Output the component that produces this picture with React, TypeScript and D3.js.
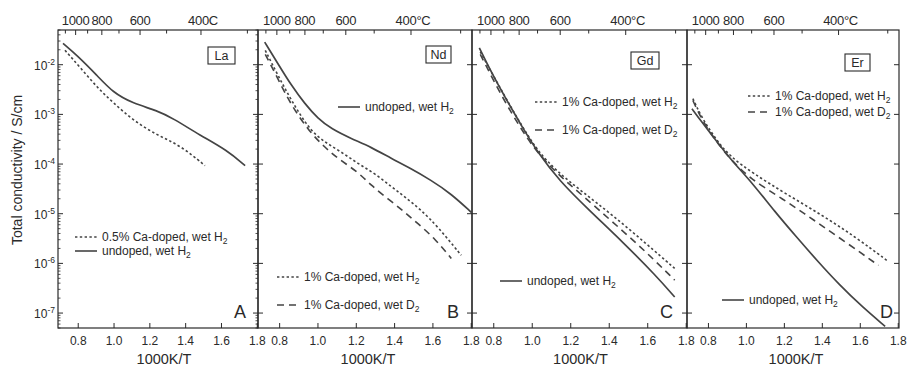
import React from "react";
import * as d3 from "d3";

// ---------------- data ----------------
const elements = ["La", "Nd", "Gd", "Er"];
const panelLetters = ["A", "B", "C", "D"];
const tempTicksC = [1100, 1000, 900, 800, 700, 600, 500, 400, 300];
const tempLabelsC = [1000, 800, 600, 400];
const invTTicks = [0.8, 1.0, 1.2, 1.4, 1.6, 1.8];
const decadeExp = [-2, -3, -4, -5, -6, -7];

// La
const laCaX = [0.726, 0.81, 0.905, 0.994, 1.106, 1.24, 1.369, 1.508];
const laCaS = [1.95e-2, 8.9e-3, 3.5e-3, 1.74e-3, 7.6e-4, 3.8e-4, 2.4e-4, 9.3e-5];
const laUndX = [0.715, 0.793, 0.905, 0.994, 1.106, 1.24, 1.33, 1.48, 1.631, 1.732];
const laUndS = [2.69e-2, 1.55e-2, 6.1e-3, 2.75e-3, 1.66e-3, 1.2e-3, 8.3e-4, 3.8e-4, 1.9e-4, 9.3e-5];

// Nd
const ndUndX = [0.722, 0.791, 0.861, 0.931, 1.0, 1.07, 1.174, 1.278, 1.383, 1.47, 1.592, 1.696, 1.8];
const ndUndS = [2.85e-2, 1.05e-2, 3.83e-3, 1.64e-3, 8.2e-4, 5.1e-4, 3.24e-4, 2.19e-4, 1.29e-4, 8.7e-5, 4.7e-5, 2.5e-5, 1.07e-5];
const ndH2X = [0.725, 0.791, 0.861, 0.957, 1.035, 1.122, 1.209, 1.296, 1.383, 1.453, 1.54, 1.627, 1.748];
const ndH2S = [1.94e-2, 6.1e-3, 1.91e-3, 4.8e-4, 2.77e-4, 1.75e-4, 1.02e-4, 6.5e-5, 3.5e-5, 2.19e-5, 1.17e-5, 5.4e-6, 1.45e-6];
const ndD2X = [0.725, 0.791, 0.861, 0.957, 1.035, 1.104, 1.209, 1.278, 1.365, 1.453, 1.522, 1.609, 1.696];
const ndD2S = [1.62e-2, 5.2e-3, 1.51e-3, 4.4e-4, 2.19e-4, 1.29e-4, 6.9e-5, 3.7e-5, 2.0e-5, 1.07e-5, 6.3e-6, 3.2e-6, 1.26e-6];

// Gd
const gdUndX = [0.725, 0.791, 0.861, 0.948, 1.035, 1.139, 1.296, 1.47, 1.644, 1.74];
const gdUndS = [2.19e-2, 6.6e-3, 2.14e-3, 5.5e-4, 1.58e-4, 4.7e-5, 1.17e-5, 2.7e-6, 5.6e-7, 2.1e-7];
const gdH2X = [0.73, 0.817, 0.896, 0.96, 1.026, 1.122, 1.261, 1.418, 1.592, 1.74];
const gdH2S = [1.82e-2, 4.4e-3, 1.26e-3, 4.8e-4, 1.9e-4, 7.4e-5, 2.75e-5, 9.3e-6, 2.5e-6, 7.9e-7];
const gdD2X = [0.73, 0.817, 0.896, 0.96, 1.026, 1.139, 1.261, 1.418, 1.592, 1.74];
const gdD2S = [1.62e-2, 3.5e-3, 1.0e-3, 4.0e-4, 1.7e-4, 5.9e-5, 2.34e-5, 6.8e-6, 1.7e-6, 4.6e-7];

// Er
const erUndX = [0.713, 0.765, 0.826, 0.913, 1.035, 1.148, 1.261, 1.374, 1.487, 1.609, 1.731];
const erUndS = [1.3e-3, 7.0e-4, 3.5e-4, 1.29e-4, 4.0e-5, 1.12e-5, 3.5e-6, 1.12e-6, 3.8e-7, 1.35e-7, 5.4e-8];
const erH2X = [0.718, 0.765, 0.843, 0.913, 1.035, 1.209, 1.4, 1.574, 1.74];
const erH2S = [2.07e-3, 8.5e-4, 3.0e-4, 1.43e-4, 6.5e-5, 2.5e-5, 9.3e-6, 3.4e-6, 1.15e-6];
const erD2X = [0.718, 0.765, 0.843, 0.913, 1.017, 1.191, 1.356, 1.522, 1.696];
const erD2S = [1.9e-3, 7.8e-4, 2.77e-4, 1.29e-4, 5.1e-5, 2.0e-5, 7.4e-6, 2.7e-6, 9.1e-7];

const lblUnd = "undoped, wet H";
const lblCaH2 = "1% Ca-doped, wet H";
const lblCaD2 = "1% Ca-doped, wet D";
const lblCa05 = "0.5% Ca-doped, wet H";

type Kind = "solid" | "dot" | "dash";
interface Series { x: number[]; y: number[]; kind: Kind; label: string; sub: string }

const panelSeries: Series[][] = [
  [
    { x: laCaX, y: laCaS, kind: "dot", label: lblCa05, sub: "2" },
    { x: laUndX, y: laUndS, kind: "solid", label: lblUnd, sub: "2" },
  ],
  [
    { x: ndUndX, y: ndUndS, kind: "solid", label: lblUnd, sub: "2" },
    { x: ndH2X, y: ndH2S, kind: "dot", label: lblCaH2, sub: "2" },
    { x: ndD2X, y: ndD2S, kind: "dash", label: lblCaD2, sub: "2" },
  ],
  [
    { x: gdH2X, y: gdH2S, kind: "dot", label: lblCaH2, sub: "2" },
    { x: gdD2X, y: gdD2S, kind: "dash", label: lblCaD2, sub: "2" },
    { x: gdUndX, y: gdUndS, kind: "solid", label: lblUnd, sub: "2" },
  ],
  [
    { x: erH2X, y: erH2S, kind: "dot", label: lblCaH2, sub: "2" },
    { x: erD2X, y: erD2S, kind: "dash", label: lblCaD2, sub: "2" },
    { x: erUndX, y: erUndS, kind: "solid", label: lblUnd, sub: "2" },
  ],
];

// ---------------- layout ----------------
const W = 908;
const H = 368;
const TOP = 30;
const BOTTOM = 328;
const FONT = "'Liberation Sans', Arial, Helvetica, sans-serif";
const INK = "#2a2a2a";
const LINE = "#444";

const panelBox = [
  { x0: 58, x1: 258, boxR: 235, boxT: 47, boxW: 27, letterX: 246, legend: [[75, 237], [75, 251]], titleDx: 6 },
  { x0: 258, x1: 472, boxR: 451, boxT: 46, boxW: 25, letterX: 459, legend: [[338, 107], [277, 277], [277, 305]], titleDx: 3 },
  { x0: 472, x1: 687, boxR: 659, boxT: 52, boxW: 28, letterX: 673, legend: [[535, 102], [535, 130], [500, 281]], titleDx: 1 },
  { x0: 687, x1: 899, boxR: 870, boxT: 54, boxW: 25, letterX: 893, legend: [[748, 96], [748, 112], [722, 300]], titleDx: 3 },
];

const dashFor = (k: Kind) => (k === "dot" ? "2.4,2.4" : k === "dash" ? "7,5" : undefined);

export default function App() {
  const y = d3.scaleLog().domain([5e-8, 5e-2]).range([BOTTOM, TOP]);
  const minor: number[] = [];
  for (let e = -8; e <= -2; e++) {
    for (let k = 2; k <= 9; k++) {
      const v = k * Math.pow(10, e);
      if (v >= 5e-8 && v <= 5e-2) minor.push(v);
    }
  }

  return (
    <svg
      width={W}
      height={H}
      style={{ position: "absolute", left: 0, top: 0, background: "#fff" }}
      fontFamily={FONT}
    >
      <rect x={0} y={0} width={W} height={H} fill="#fff" />
      <text transform={`translate(22,170) rotate(-90)`} textAnchor="middle" fontSize={14} fill={INK}>
        Total conductivity / S/cm
      </text>
      {decadeExp.map((e) => (
        <text key={e} x={55} y={y(Math.pow(10, e)) + 5} textAnchor="end" fontSize={12} fill={INK}>
          10
          <tspan dy={-5} fontSize={8.5}>{`-${-e}`}</tspan>
        </text>
      ))}
      {panelBox.map((p, pi) => {
        const x = d3.scaleLinear().domain([0.687, 1.804]).range([p.x0, p.x1]);
        const line = d3
          .line<[number, number]>()
          .x((d) => x(d[0]))
          .y((d) => y(d[1]))
          .curve(d3.curveBasis);
        const series = panelSeries[pi];
        const cx = (p.x0 + p.x1) / 2 + p.titleDx;
        return (
          <g key={pi}>
            <rect x={p.x0} y={TOP} width={p.x1 - p.x0} height={BOTTOM - TOP} fill="none" stroke={INK} strokeWidth={1.2} />
            {decadeExp.map((e) => {
              const ty = y(Math.pow(10, e));
              return (
                <g key={e}>
                  <line x1={p.x0} x2={p.x0 + 5} y1={ty} y2={ty} stroke={INK} strokeWidth={1} />
                  <line x1={p.x1} x2={p.x1 - 5} y1={ty} y2={ty} stroke={INK} strokeWidth={1} />
                </g>
              );
            })}
            {pi === 0 &&
              minor.map((v, i) => (
                <g key={`m${i}`}>
                  <line x1={p.x0} x2={p.x0 + 2.5} y1={y(v)} y2={y(v)} stroke={INK} strokeWidth={0.8} />
                  <line x1={p.x1} x2={p.x1 - 2.5} y1={y(v)} y2={y(v)} stroke={INK} strokeWidth={0.8} />
                </g>
              ))}
            {invTTicks.map((t) => (
              <g key={t}>
                <line x1={x(t)} x2={x(t)} y1={BOTTOM} y2={BOTTOM - 5} stroke={INK} strokeWidth={1} />
                <text x={x(t)} y={345} textAnchor="middle" fontSize={12} fill={INK}>
                  {t.toFixed(1)}
                </text>
              </g>
            ))}
            <text x={cx} y={364} textAnchor="middle" fontSize={14.5} fill={INK}>
              1000K/T
            </text>
            {tempTicksC.map((T) => {
              const v = 1000 / (T + 273.15);
              const major = tempLabelsC.includes(T);
              return (
                <line key={T} x1={x(v)} x2={x(v)} y1={TOP} y2={TOP + (major ? 5 : 3.5)} stroke={INK} strokeWidth={1} />
              );
            })}
            {tempLabelsC.map((T) => {
              const v = 1000 / (T + 273.15);
              const txt = T === 400 ? (pi === 0 ? "400C" : "400°C") : String(T);
              return (
                <text key={T} x={x(v) + (T === 400 ? 2 : 0)} y={25} textAnchor="middle" fontSize={13} fill={INK} letterSpacing={-0.3}>
                  {txt}
                </text>
              );
            })}
            {series.map((s, si) => (
              <path
                key={si}
                d={line(s.x.map((v, i) => [v, s.y[i]] as [number, number])) || ""}
                fill="none"
                stroke={LINE}
                strokeWidth={s.kind === "solid" ? 1.7 : 1.6}
                strokeDasharray={dashFor(s.kind)}
              />
            ))}
            {series.map((s, si) => {
              const [lx, ly] = p.legend[si];
              return (
                <g key={`l${si}`}>
                  <line x1={lx} x2={lx + 22} y1={ly} y2={ly} stroke={LINE} strokeWidth={1.6} strokeDasharray={dashFor(s.kind)} />
                  <text x={lx + 27} y={ly + 4} fontSize={12} fill={INK}>
                    {s.label}
                    <tspan dy={3} fontSize={8.5}>{s.sub}</tspan>
                  </text>
                </g>
              );
            })}
            <rect x={p.boxR - p.boxW} y={p.boxT} width={p.boxW} height={17} fill="#fff" stroke={INK} strokeWidth={1.1} />
            <text x={p.boxR - p.boxW / 2} y={p.boxT + 13} textAnchor="middle" fontSize={12.5} fill={INK}>
              {elements[pi]}
            </text>
            <text x={p.letterX} y={318} textAnchor="end" fontSize={18} fill={INK}>
              {panelLetters[pi]}
            </text>
          </g>
        );
      })}
    </svg>
  );
}
